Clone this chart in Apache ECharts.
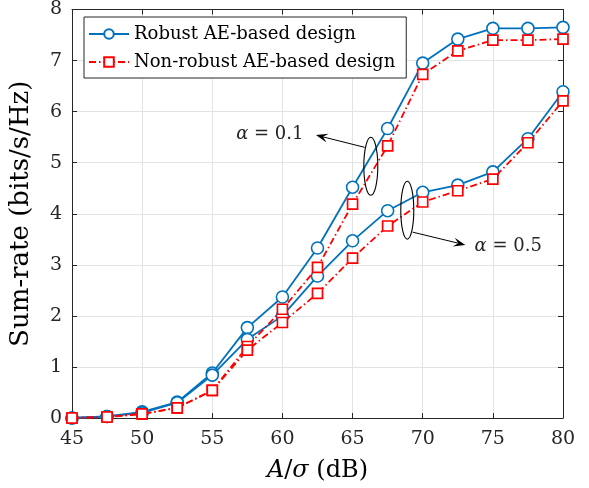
<!DOCTYPE html>
<html>
<head>
<meta charset="utf-8">
<script src="https://cdn.jsdelivr.net/npm/echarts@6/dist/echarts.min.js"></script>
<style>
html,body{margin:0;padding:0;background:#fff;}
#main{width:589px;height:488px;}
</style>
</head>
<body>
<div id="main"></div>
<script>
var xValues = [45, 47.5, 50, 52.5, 55, 57.5, 60, 62.5, 65, 67.5, 70, 72.5, 75, 77.5, 80];
var robustA01 = [0, 0.03, 0.12, 0.31, 0.88, 1.77, 2.37, 3.33, 4.52, 5.67, 6.95, 7.42, 7.63, 7.63, 7.65];
var nonRobustA01 = [0, 0.02, 0.08, 0.2, 0.54, 1.4, 2.13, 2.95, 4.19, 5.33, 6.73, 7.19, 7.40, 7.40, 7.42];
var robustA05 = [0, 0.03, 0.1, 0.3, 0.84, 1.54, 2.0, 2.78, 3.47, 4.06, 4.42, 4.56, 4.82, 5.47, 6.39];
var nonRobustA05 = [0, 0.02, 0.08, 0.2, 0.54, 1.33, 1.87, 2.44, 3.13, 3.76, 4.23, 4.45, 4.68, 5.39, 6.21];
var legendNames = ['Robust AE-based design', 'Non-robust AE-based design'];
var xTicks = [45, 50, 55, 60, 65, 70, 75, 80];
var yTicks = [0, 1, 2, 3, 4, 5, 6, 7, 8];

function pairs(ys) { return xValues.map(function (x, i) { return [x, ys[i]]; }); }

var FONT = 'DejaVu Serif';
var BLUE = '#0072BD';
var RED = '#FF0000';
var AX = '#262626';

var chart = echarts.init(document.getElementById('main'));

function robustSeries(name, ys) {
  return {
    name: name, type: 'line', data: pairs(ys),
    symbol: 'circle', symbolSize: 12, showSymbol: true,
    itemStyle: { color: '#fff', borderColor: BLUE, borderWidth: 1.6 },
    lineStyle: { color: BLUE, width: 1.8 },
    z: 3, animation: false
  };
}
function nonRobustSeries(name, ys) {
  return {
    name: name, type: 'line', data: pairs(ys),
    symbol: 'rect', symbolSize: 10,
    itemStyle: { color: '#fff', borderColor: RED, borderWidth: 1.7 },
    lineStyle: { color: RED, width: 1.8, type: [7, 3, 1.5, 3] },
    z: 4, animation: false
  };
}

var axisCommon = {
  axisLine: { show: true, onZero: false, lineStyle: { color: AX, width: 1 } },
  axisTick: { show: true, inside: true, length: 5, lineStyle: { color: AX } },
};

var option = {
  backgroundColor: '#fff',
  animation: false,
  grid: { left: 70, right: 26, top: 9, bottom: 70, containLabel: false },
  legend: {
    data: [legendNames[0], legendNames[1]],
    orient: 'vertical', left: 84, top: 17,
    backgroundColor: '#fff', borderColor: AX, borderWidth: 1,
    padding: [8, 11, 7, 4], itemGap: 10, itemWidth: 40, itemHeight: 12,
    textStyle: { fontFamily: FONT, fontSize: 18, color: '#000' }
  },
  xAxis: [{
    type: 'value', min: 45, max: 80, interval: 5,
    name: '{i|A}/{i|σ} (dB)', nameLocation: 'middle', nameGap: 41,
    nameTextStyle: { fontFamily: FONT, fontSize: 24, color: '#000',
      rich: { i: { fontFamily: FONT, fontStyle: 'italic', fontSize: 24, color: '#000' } } },
    axisLabel: { fontFamily: FONT, fontSize: 19, color: '#262626', margin: 12,
      formatter: function (v) { return xTicks.indexOf(v) >= 0 ? String(v) : ''; } },
    splitLine: { show: true, lineStyle: { color: '#e3e3e3', width: 1 } },
    axisLine: axisCommon.axisLine, axisTick: axisCommon.axisTick
  }, {
    type: 'value', min: 45, max: 80, interval: 5, position: 'top',
    axisLabel: { show: false }, splitLine: { show: false },
    axisLine: axisCommon.axisLine, axisTick: axisCommon.axisTick
  }],
  yAxis: [{
    type: 'value', min: 0, max: 8, interval: 1,
    name: 'Sum-rate (bits/s/Hz)', nameLocation: 'middle', nameGap: 38,
    nameTextStyle: { fontFamily: FONT, fontSize: 26, color: '#000' },
    axisLabel: { fontFamily: FONT, fontSize: 19, color: '#262626', margin: 10,
      formatter: function (v) { return yTicks.indexOf(v) >= 0 ? String(v) : ''; } },
    splitLine: { show: true, lineStyle: { color: '#e3e3e3', width: 1 } },
    axisLine: axisCommon.axisLine, axisTick: axisCommon.axisTick
  }, {
    type: 'value', min: 0, max: 8, interval: 1, position: 'right',
    axisLabel: { show: false }, splitLine: { show: false },
    axisLine: axisCommon.axisLine, axisTick: axisCommon.axisTick
  }],
  series: [
    robustSeries(legendNames[0], robustA01),
    nonRobustSeries(legendNames[1], nonRobustA01),
    robustSeries(legendNames[0], robustA05),
    nonRobustSeries(legendNames[1], nonRobustA05)
  ]
};
chart.setOption(option);

// Annotation positions in data coordinates
var ann = {
  ell1: { c: [66.3, 4.93], rx: 7, ry: 29 },
  ell2: { c: [68.9, 4.07], rx: 6.5, ry: 29 },
  arr1: { from: [65.87, 5.30], to: [62.39, 5.54] },
  arr2: { from: [69.28, 3.64], to: [73.04, 3.39] },
  txt1: { at: [56.7, 5.56], text: '{i|α} = 0.1' },
  txt2: { at: [73.7, 3.36], text: '{i|α} = 0.5' }
};
function px(p) { return chart.convertToPixel({ gridIndex: 0 }, p); }
function arrow(a) {
  var f = px(a.from), t = px(a.to);
  var dx = t[0] - f[0], dy = t[1] - f[1], L = Math.sqrt(dx * dx + dy * dy);
  var ux = dx / L, uy = dy / L, hl = 12, hw = 4.5;
  var bx = t[0] - ux * hl, by = t[1] - uy * hl;
  var nx = -uy, ny = ux;
  var ix = t[0] - ux * hl * 0.6, iy = t[1] - uy * hl * 0.6;
  return [
    { type: 'line', shape: { x1: f[0], y1: f[1], x2: ix, y2: iy }, style: { stroke: '#000', lineWidth: 1 }, z: 10 },
    { type: 'polygon', shape: { points: [[t[0], t[1]], [bx + nx * hw, by + ny * hw], [ix, iy], [bx - nx * hw, by - ny * hw]] }, style: { fill: '#000' }, z: 10 }
  ];
}
function ellipse(e) {
  var c = px(e.c);
  return { type: 'ellipse', shape: { cx: c[0], cy: c[1], rx: e.rx, ry: e.ry }, style: { fill: null, stroke: '#000', lineWidth: 1.1 }, z: 10 };
}
function label(t) {
  var p = px(t.at);
  return { type: 'text', x: p[0], y: p[1], z: 10,
    style: { text: t.text, fontFamily: FONT, fontSize: 18, fill: '#262626', verticalAlign: 'middle', align: 'left',
      rich: { i: { fontFamily: FONT, fontStyle: 'italic', fontSize: 18, fill: '#262626' } } } };
}
var g = [ellipse(ann.ell1), ellipse(ann.ell2)].concat(arrow(ann.arr1), arrow(ann.arr2), [label(ann.txt1), label(ann.txt2)]);
chart.setOption({ graphic: g });
</script>
</body>
</html>
